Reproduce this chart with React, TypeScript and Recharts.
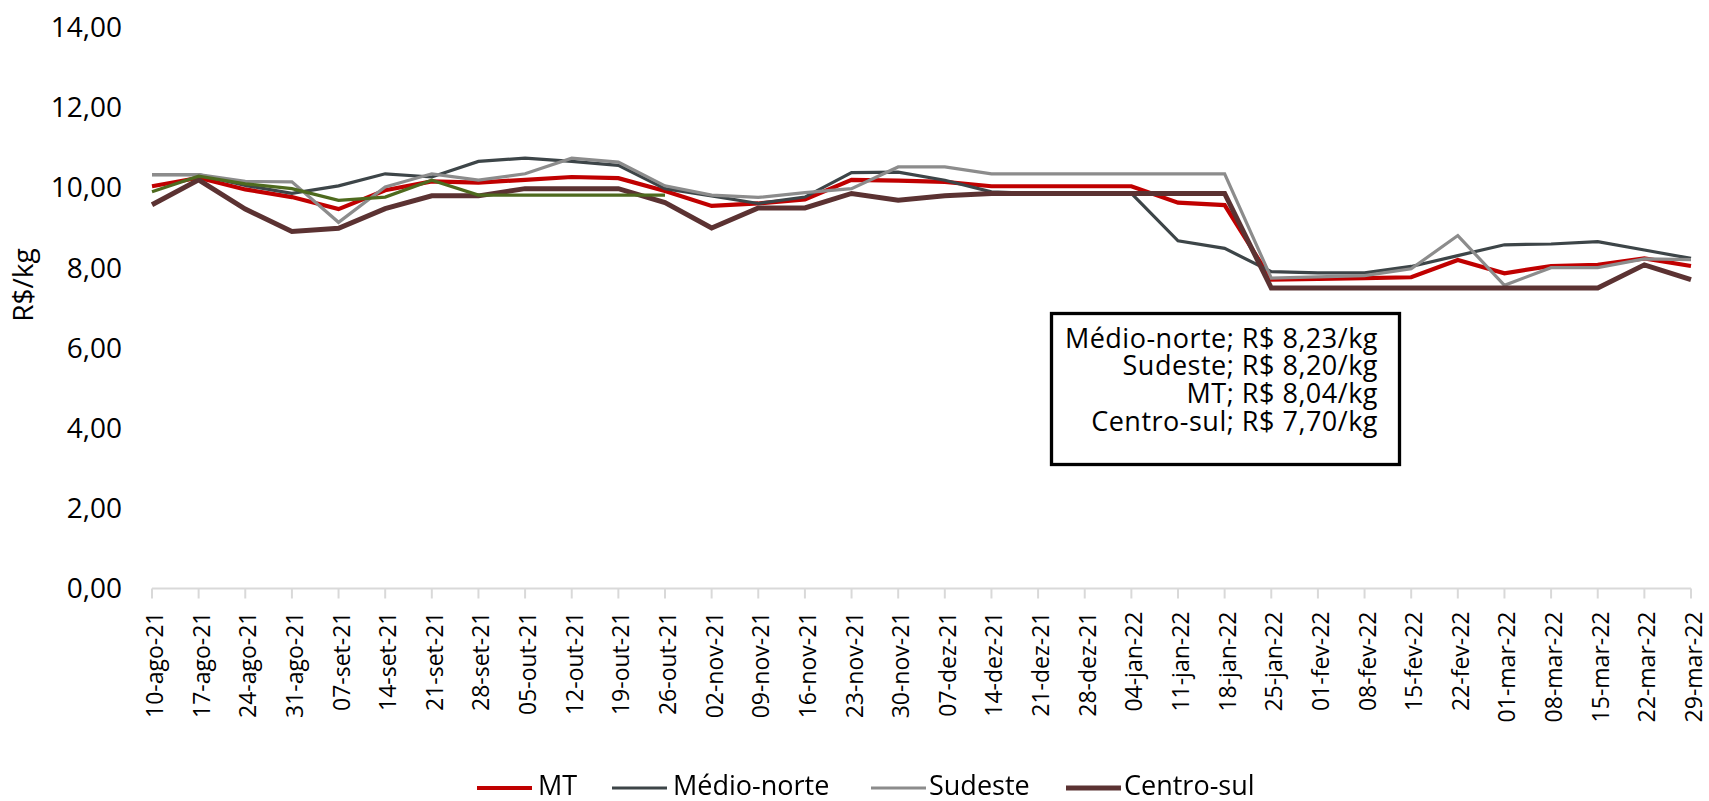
import React from 'react';
import { LineChart, Line, XAxis, YAxis, Legend, Customized } from 'recharts';

const dates = [
  '10-ago-21', '17-ago-21', '24-ago-21', '31-ago-21', '07-set-21', '14-set-21', '21-set-21', '28-set-21',
  '05-out-21', '12-out-21', '19-out-21', '26-out-21', '02-nov-21', '09-nov-21', '16-nov-21', '23-nov-21',
  '30-nov-21', '07-dez-21', '14-dez-21', '21-dez-21', '28-dez-21', '04-jan-22', '11-jan-22', '18-jan-22',
  '25-jan-22', '01-fev-22', '08-fev-22', '15-fev-22', '22-fev-22', '01-mar-22', '08-mar-22', '15-mar-22',
  '22-mar-22', '29-mar-22',
];

const mt = [
  10.03, 10.24, 9.95, 9.76, 9.46, 9.93, 10.15, 10.12, 10.19, 10.26, 10.23, 9.91, 9.54, 9.6, 9.7, 10.19,
  10.17, 10.14, 10.03, 10.03, 10.03, 10.03, 9.62, 9.56, 7.7, 7.72, 7.74, 7.76, 8.19, 7.86, 8.04, 8.07,
  8.23, 8.04,
];

const medioNorte = [
  10.32, 10.32, 10.05, 9.85, 10.04, 10.34, 10.26, 10.65, 10.73, 10.65, 10.55, 9.97, 9.79, 9.6, 9.76, 10.37,
  10.38, 10.18, 9.89, 9.85, 9.85, 9.85, 8.67, 8.48, 7.9, 7.87, 7.87, 8.03, 8.3, 8.57, 8.59, 8.65,
  8.44, 8.23,
];

const sudeste = [
  10.32, 10.32, 10.15, 10.14, 9.13, 10.01, 10.34, 10.18, 10.34, 10.73, 10.63, 10.04, 9.81, 9.75, 9.87, 9.97,
  10.51, 10.51, 10.34, 10.34, 10.34, 10.34, 10.34, 10.34, 7.74, 7.77, 7.8, 7.97, 8.8, 7.56, 8.0, 8.0,
  8.22, 8.2,
];

const centroSul = [
  9.57, 10.19, 9.46, 8.9, 8.98, 9.47, 9.79, 9.79, 9.97, 9.97, 9.97, 9.62, 8.99, 9.49, 9.49, 9.85,
  9.68, 9.79, 9.85, 9.85, 9.85, 9.85, 9.85, 9.85, 7.49, 7.49, 7.49, 7.49, 7.49, 7.49, 7.49, 7.49,
  8.07, 7.7,
];

const extraSeries: (number | null)[] = [
  9.89, 10.28, 10.09, 9.97, 9.68, 9.76, 10.18, 9.81, 9.81, 9.81, 9.81, 9.81,
];

const yTicks = [0, 2, 4, 6, 8, 10, 12, 14];

const annotationLines = [
  'Médio-norte; R$ 8,23/kg',
  'Sudeste; R$ 8,20/kg',
  'MT; R$ 8,04/kg',
  'Centro-sul; R$ 7,70/kg',
];

const FONT = '"Open Sans", sans-serif';

const data = dates.map((d, i) => ({
  date: d,
  mt: mt[i],
  medioNorte: medioNorte[i],
  sudeste: sudeste[i],
  centroSul: centroSul[i],
  extra: i < extraSeries.length ? extraSeries[i] : null,
}));

const legendItems = [
  { name: 'MT', color: '#C00000', width: 4, lineX: 477, textX: 538 },
  { name: 'Médio-norte', color: '#3D4548', width: 3.2, lineX: 612, textX: 673 },
  { name: 'Sudeste', color: '#8C8C8C', width: 3.2, lineX: 871, textX: 929 },
  { name: 'Centro-sul', color: '#5B3232', width: 5, lineX: 1066, textX: 1124 },
];

const XTick = (props: any) => {
  const { x, y, payload } = props;
  return (
    <text
      transform={`translate(${x + 11},${y}) rotate(-90)`}
      textAnchor="end"
      fontSize={23}
      fontFamily={FONT}
      fill="#000"
    >
      {payload.value}
    </text>
  );
};

const renderLegend = () => (
  <div style={{ height: 40, width: 1691 }}>
    <svg width={1691} height={40} style={{ display: 'block', overflow: 'visible' }}>
      {legendItems.map((it) => (
        <g key={it.name}>
          <line x1={it.lineX} x2={it.lineX + 55} y1={27} y2={27} stroke={it.color} strokeWidth={it.width} />
          <text x={it.textX} y={34} fontSize={27} fontFamily={FONT} fill="#000">
            {it.name}
          </text>
        </g>
      ))}
    </svg>
  </div>
);

const Overlay = () => (
  <g>
    <text
      transform="translate(33,285) rotate(-90)"
      textAnchor="middle"
      fontSize={28}
      fontFamily={FONT}
      fill="#000"
    >
      R$/kg
    </text>
    <rect x={1051.5} y={313.5} width={348} height={151} fill="#fff" stroke="#000" strokeWidth={3.3} />
    {annotationLines.map((t, i) => (
      <text
        key={t}
        x={1378}
        y={347.7 + i * 27.7}
        textAnchor="end"
        fontSize={27}
        letterSpacing={0.5}
        fontFamily={FONT}
        fill="#000"
      >
        {t}
      </text>
    ))}
  </g>
);

export default function App() {
  return (
    <div style={{ position: 'fixed', left: 0, top: 0, width: 1709, height: 801, background: '#fff' }}>
      <LineChart width={1709} height={801} data={data} margin={{ top: 27, right: 18, left: 0, bottom: 0 }}>
        <XAxis
          dataKey="date"
          interval={0}
          height={172.5}
          tick={<XTick />}
          tickSize={10}
          tickMargin={13}
          axisLine={{ stroke: '#D9D9D9', strokeWidth: 2 }}
          tickLine={{ stroke: '#D9D9D9', strokeWidth: 2 }}
        />
        <YAxis
          width={152}
          domain={[0, 14]}
          ticks={yTicks}
          axisLine={false}
          tickLine={false}
          tickSize={0}
          tickMargin={30}
          tick={{ fontSize: 28, fontFamily: FONT, fill: '#000' }}
          tickFormatter={(v: number) => v.toFixed(2).replace('.', ',')}
        />
        <Legend verticalAlign="bottom" height={40} content={renderLegend} />
        <Line type="linear" dataKey="mt" name="MT" stroke="#C00000" strokeWidth={4.2} dot={false} activeDot={false} isAnimationActive={false} />
        <Line type="linear" dataKey="medioNorte" name="Médio-norte" stroke="#3D4548" strokeWidth={3.2} dot={false} activeDot={false} isAnimationActive={false} />
        <Line type="linear" dataKey="sudeste" name="Sudeste" stroke="#8C8C8C" strokeWidth={3.2} dot={false} activeDot={false} isAnimationActive={false} />
        <Line type="linear" dataKey="centroSul" name="Centro-sul" stroke="#5B3232" strokeWidth={5} dot={false} activeDot={false} isAnimationActive={false} />
        <Line type="linear" dataKey="extra" stroke="#4E6A1E" strokeWidth={3.2} dot={false} activeDot={false} legendType="none" isAnimationActive={false} />
        <Customized component={Overlay} />
      </LineChart>
    </div>
  );
}
